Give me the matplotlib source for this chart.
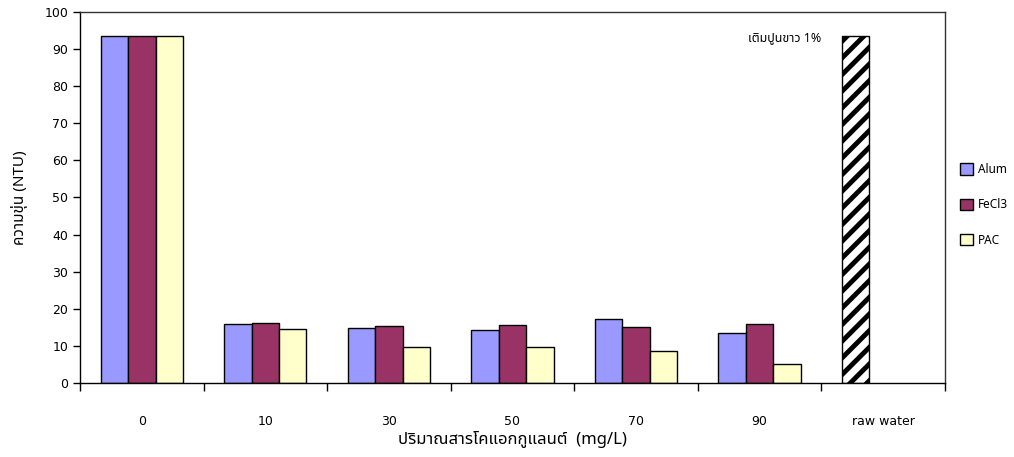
import matplotlib
matplotlib.use("Agg")
import matplotlib.pyplot as plt
import numpy as np

# data
doses = ["0", "10", "30", "50", "70", "90", "raw water"]
alum = [93.5, 15.9, 14.8, 14.3, 17.3, 13.5]
fecl3 = [93.5, 16.2, 15.4, 15.6, 15.1, 15.9]
pac = [93.5, 14.6, 9.7, 9.7, 8.6, 5.1]
raw_water = 93.5

thai = ["Noto Sans Thai", "DejaVu Sans"]
plt.rcParams["hatch.linewidth"] = 3.5

fig = plt.figure(figsize=(10.14, 4.57), dpi=100)
ax = fig.add_axes([0.0789, 0.162, 0.853, 0.812])

x = np.arange(len(alum))
w = 0.222
ax.bar(x - w, alum, w, color="#9999FF", edgecolor="black", linewidth=1, label="Alum")
ax.bar(x, fecl3, w, color="#993366", edgecolor="black", linewidth=1, label="FeCl3")
ax.bar(x + w, pac, w, color="#FFFFCC", edgecolor="black", linewidth=1, label="PAC")
ax.bar(len(alum) - w, raw_water, w, color="white", edgecolor="black", linewidth=1, hatch="//")

ax.text(5.2, 93, "เติมปูนขาว 1%", family=thai, fontsize=9, ha="center", va="center")

ax.set_xlim(-0.5, len(doses) - 0.5)
ax.set_ylim(0, 100)
ax.set_yticks(np.arange(0, 101, 10))
ax.set_xticks(np.arange(len(doses)))
ax.set_xticklabels(doses)
ax.set_xticks(np.arange(len(doses) + 1) - 0.5, minor=True)
ax.tick_params(axis="x", which="major", length=0, pad=23, labelsize=9)
ax.tick_params(axis="x", which="minor", length=6, width=1, direction="out")
ax.tick_params(axis="y", length=5, width=1, direction="out", labelsize=9)
for s in ax.spines.values():
    s.set_linewidth(1)
    s.set_color("#333333")
ax.spines["bottom"].set_color("black")
ax.spines["left"].set_color("black")

ax.set_xlabel("ปริมาณสารโคแอกกูแลนต์  (mg/L)", family=thai, fontsize=12, va="center")
ax.xaxis.set_label_coords(0.5, -0.152)
ax.set_ylabel("ความขุ่น (NTU)", family=thai, fontsize=11, fontweight="bold", labelpad=12)

ax.legend(loc="center left", bbox_to_anchor=(1.005, 0.48), frameon=False,
          labelspacing=1.9, handlelength=1.1, handleheight=1.1,
          handletextpad=0.4, prop={"family": thai, "size": 8.5})

fig.savefig("out.png", dpi=100)
